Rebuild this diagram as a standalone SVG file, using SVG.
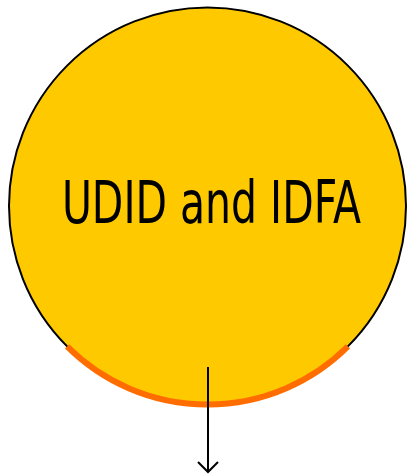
<svg xmlns="http://www.w3.org/2000/svg" width="407" height="476" viewBox="0 0 407 476">
<defs>
<style>
.node{fill:#FFC900;stroke:#000;stroke-width:2}
.accent{fill:none;stroke:#FF6D00;stroke-width:6}
.label{font-family:"DejaVu Sans Condensed","DejaVu Sans",sans-serif;font-stretch:condensed;font-size:58px;fill:#000}
.conn{fill:none;stroke:#000;stroke-width:2}
</style>
</defs>
<rect width="407" height="476" fill="#fff"/>
<g id="node-udid">
<circle class="node" cx="207.5" cy="206" r="198.5"/>
<path class="accent" d="M 67.1 346.4 A 198.5 198.5 0 0 0 347.9 346.4"/>
<text class="label" transform="scale(0.785,1)" x="269.4" y="223" text-anchor="middle">UDID and IDFA</text>
</g>
<g id="connectors">
<line class="conn" x1="208" y1="367" x2="208" y2="472"/>
<polyline class="conn" points="198,462 208,472 218,462"/>
</g>
</svg>
